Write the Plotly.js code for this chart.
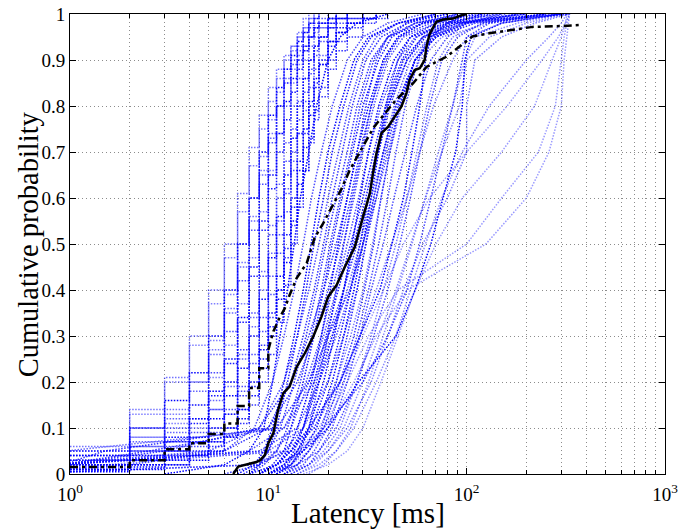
<!DOCTYPE html>
<html>
<head>
<meta charset="utf-8">
<script src="https://cdn.plot.ly/plotly-3.0.1.min.js"></script>
<style>
  html, body { margin: 0; padding: 0; background: #fff; }
  #chart { width: 678px; height: 532px; }
</style>
</head>
<body>
<div id="chart"></div>
<script>
// Integer-millisecond grid for the quantised per-node CDFs (step curves)
const stepMs = [1, 2, 3, 4, 5, 6, 7, 8, 9, 10, 11, 12, 13, 14, 15, 16, 17, 18, 20, 22, 25, 30, 35, 40];

// Cumulative probability at each stepMs value (curve ends once it reaches 1)
const stepCdf1  = [0.06, 0.14, 0.21, 0.30, 0.40, 0.50, 0.61, 0.71, 0.78, 0.84, 0.88, 0.91, 0.93, 0.96, 0.99, 1];
const stepCdf2  = [0.05, 0.13, 0.20, 0.28, 0.37, 0.47, 0.57, 0.67, 0.75, 0.81, 0.86, 0.90, 0.93, 0.95, 0.97, 0.99, 1];
const stepCdf3  = [0.04, 0.10, 0.16, 0.22, 0.30, 0.40, 0.50, 0.60, 0.70, 0.78, 0.84, 0.88, 0.91, 0.94, 0.96, 0.98, 0.99, 1];
const stepCdf4  = [0.03, 0.06, 0.10, 0.15, 0.22, 0.31, 0.42, 0.53, 0.63, 0.72, 0.80, 0.85, 0.89, 0.92, 0.95, 0.97, 0.98, 0.99, 1];
const stepCdf5  = [0.02, 0.05, 0.08, 0.12, 0.18, 0.25, 0.34, 0.45, 0.55, 0.65, 0.74, 0.81, 0.86, 0.90, 0.93, 0.95, 0.97, 0.98, 0.99, 1];
const stepCdf6  = [0.04, 0.06, 0.09, 0.12, 0.16, 0.20, 0.26, 0.34, 0.44, 0.54, 0.63, 0.72, 0.80, 0.86, 0.90, 0.93, 0.95, 0.97, 0.99, 1];
const stepCdf7  = [0.02, 0.03, 0.05, 0.08, 0.12, 0.17, 0.23, 0.30, 0.38, 0.47, 0.56, 0.65, 0.73, 0.80, 0.86, 0.90, 0.93, 0.95, 0.98, 0.99, 1];
const stepCdf8  = [0.01, 0.02, 0.04, 0.06, 0.09, 0.13, 0.18, 0.24, 0.31, 0.39, 0.48, 0.57, 0.66, 0.74, 0.81, 0.87, 0.91, 0.94, 0.97, 0.99, 1];
const stepCdf9  = [0.05, 0.10, 0.14, 0.20, 0.27, 0.36, 0.46, 0.56, 0.66, 0.74, 0.80, 0.85, 0.88, 0.91, 0.93, 0.95, 0.96, 0.97, 0.98, 0.99, 1];
const stepCdf10 = [0.01, 0.015, 0.02, 0.03, 0.05, 0.08, 0.12, 0.17, 0.23, 0.30, 0.38, 0.46, 0.55, 0.63, 0.71, 0.78, 0.84, 0.89, 0.94, 0.97, 0.99, 1];
const stepCdf11 = [0.02, 0.04, 0.06, 0.09, 0.14, 0.20, 0.27, 0.35, 0.43, 0.52, 0.60, 0.68, 0.75, 0.81, 0.86, 0.90, 0.93, 0.95, 0.97, 0.98, 0.99, 1];
const stepCdf12 = [0.005, 0.01, 0.02, 0.04, 0.07, 0.10, 0.14, 0.20, 0.27, 0.35, 0.43, 0.52, 0.60, 0.68, 0.75, 0.81, 0.86, 0.90, 0.94, 0.96, 0.98, 0.99, 1];
const stepCdf13 = [0.03, 0.05, 0.07, 0.10, 0.14, 0.19, 0.25, 0.32, 0.40, 0.48, 0.55, 0.62, 0.68, 0.74, 0.79, 0.84, 0.88, 0.91, 0.94, 0.96, 0.98, 0.99, 1];
const stepCdf14 = [0.01, 0.03, 0.05, 0.07, 0.10, 0.13, 0.17, 0.22, 0.28, 0.34, 0.40, 0.47, 0.54, 0.60, 0.66, 0.72, 0.77, 0.82, 0.88, 0.92, 0.95, 0.98, 0.99, 1];
const stepCdf15 = [0.03, 0.07, 0.12, 0.18, 0.26, 0.35, 0.45, 0.55, 0.65, 0.73, 0.80, 0.86, 0.90, 0.93, 0.96, 0.98, 0.99, 1];
const stepCdf16 = [0.01, 0.02, 0.03, 0.05, 0.07, 0.10, 0.14, 0.19, 0.25, 0.32, 0.40, 0.49, 0.58, 0.66, 0.74, 0.80, 0.85, 0.89, 0.93, 0.96, 0.98, 0.99, 1];
const stepCdf17 = [0.04, 0.08, 0.13, 0.20, 0.29, 0.39, 0.50, 0.60, 0.69, 0.77, 0.83, 0.88, 0.92, 0.95, 0.97, 0.99, 1];
const stepCdf18 = [0.02, 0.04, 0.07, 0.11, 0.17, 0.24, 0.33, 0.43, 0.53, 0.62, 0.70, 0.77, 0.83, 0.88, 0.92, 0.95, 0.97, 0.98, 0.99, 1];
const stepCdf19 = [0.015, 0.03, 0.05, 0.07, 0.10, 0.14, 0.19, 0.26, 0.34, 0.43, 0.52, 0.61, 0.70, 0.77, 0.83, 0.88, 0.92, 0.95, 0.97, 0.99, 1];
const stepCdf20 = [0.05, 0.08, 0.11, 0.15, 0.21, 0.28, 0.37, 0.47, 0.57, 0.66, 0.74, 0.80, 0.85, 0.89, 0.92, 0.95, 0.97, 0.98, 0.99, 1];
const stepCdf21 = [0.01, 0.02, 0.03, 0.04, 0.06, 0.08, 0.11, 0.15, 0.20, 0.26, 0.33, 0.41, 0.50, 0.58, 0.66, 0.73, 0.79, 0.84, 0.90, 0.94, 0.97, 0.99, 1];

// Probability levels for the remaining per-node CDFs, given as latency quantiles [ms]
const levels = [0, 0.02, 0.05, 0.1, 0.2, 0.3, 0.4, 0.5, 0.6, 0.7, 0.8, 0.9, 0.95, 0.98, 1];
const q1  = [3, 6, 8, 9.5, 10.5, 11.5, 12.5, 13.5, 14.5, 16, 17.5, 20, 23, 28, 40];
const q2  = [0.5, 2, 6, 8.5, 10.5, 12, 13.5, 15, 16.5, 18.5, 21, 25, 30, 40, 60];
const q3  = [7, 8.5, 9.5, 10.5, 12, 13.5, 15, 16.5, 18, 20, 23, 27, 32, 45, 80];
const q4  = [0.5, 0.8, 5, 9, 12, 14, 16, 18, 20, 22.5, 25.5, 30, 35, 45, 70];
const q5  = [8, 9.5, 11, 12.5, 14.5, 16.5, 18.5, 20.5, 23, 26, 29, 34, 40, 55, 100];
const q6  = [9, 11, 12.5, 14, 16.5, 18.5, 20.5, 22.5, 25, 28, 32, 38, 45, 60, 120];
const q7  = [0.5, 0.9, 8, 12, 15.5, 18.5, 21, 24, 27, 30, 34, 40, 48, 70, 150];
const q8  = [10, 12, 14, 16, 19, 21.5, 24, 26.5, 29, 32, 36, 43, 52, 80, 200];
const q9  = [0.5, 9, 11, 13, 16, 19, 22, 25, 28.5, 32, 37, 45, 55, 85, 300];
const q10 = [11, 13, 15, 17.5, 21, 24, 27, 30, 33, 36, 40, 48, 60, 90, 250];
const q11 = [0.5, 0.9, 10, 15, 20, 24, 28, 31, 34, 38, 43, 52, 65, 100, 320];
const q12 = [12, 14, 16, 19, 23, 27, 30.5, 34, 37, 41, 46, 55, 70, 110, 300];
const q13 = [0.5, 1.5, 12, 17, 22, 26, 30, 33.5, 37, 41, 47, 58, 75, 130, 330];
const q14 = [6, 9, 12, 15, 17.5, 20, 25.7, 30, 34, 38, 44, 55, 70, 100, 180];
const q15 = [9, 11, 13, 16, 23, 29, 36.5, 42, 48, 53, 58, 62, 66, 80, 100];
const q16 = [8, 11, 15, 20, 28.5, 44, 55, 66, 76, 88, 95, 98, 105, 150, 300];
const q17 = [10, 14, 18, 22, 28, 34, 40, 46, 52, 58, 65, 75, 90, 120, 250];
const q18 = [0.5, 8, 13, 17, 23, 29, 35, 42, 50, 58, 68, 85, 100, 150, 300];
const q19 = [14, 17, 20, 24, 30, 36, 44, 52, 62, 75, 92, 100, 130, 200, 320];
const q20 = [12, 16, 20, 25, 33, 40, 48, 60, 80, 100, 100, 110, 150, 220, 330];
const q21 = [9, 12, 15, 19, 25, 32, 45, 100, 150, 230, 280, 300, 310, 320, 330];
const q22 = [10, 13, 16, 20, 27, 35, 50, 125, 200, 260, 300, 310, 320, 325, 330];
const q23 = [0.5, 0.9, 1.5, 10, 14, 17, 20, 23, 26, 29, 33, 38, 45, 60, 90];
const q24 = [0.5, 0.9, 3, 9, 13, 16, 19, 22, 25, 28, 31, 35, 40, 50, 70];
const q25 = [10, 13, 14.4, 19, 30, 40, 50, 58, 66, 75, 85, 95, 100, 130, 250];
const q26 = [9, 10.5, 12, 13, 15, 17, 19, 21, 23.5, 26.5, 30, 36, 42, 55, 90];
const q27 = [11, 13, 14.5, 16, 18, 20, 22, 24, 26.5, 29.5, 33, 39, 46, 65, 110];
const q28 = [10, 12, 13.5, 15, 17, 19.5, 22.5, 26, 30, 34, 39, 47, 56, 75, 130];
const q29 = [12, 15, 17, 20, 24, 28, 32, 36, 40, 44, 49, 57, 65, 90, 160];
const q30 = [0.5, 0.9, 9, 14, 18, 22, 26, 30, 35, 40, 46, 55, 65, 95, 200];
const q31 = [13, 16, 19, 23, 28, 33, 38, 44, 50, 56, 63, 72, 85, 120, 280];
const q32 = [0.5, 0.9, 2.5, 11, 16, 20, 24, 28, 32, 36, 41, 50, 60, 80, 140];
const q33 = [15, 20, 25, 30, 37, 45, 55, 70, 95, 150, 220, 270, 300, 315, 320];
const q34 = [8, 9, 10, 11, 12.5, 14, 15.5, 17, 19, 21, 24, 28, 33, 45, 70];
const q35 = [0.5, 0.9, 6, 10, 13, 15, 17, 19, 21, 23.5, 26.5, 31, 37, 50, 80];
const q36 = [0.5, 0.9, 0.95, 12, 17, 21, 25, 29, 33, 38, 44, 55, 70, 100, 250];
const q37 = [11, 14, 16, 18.5, 22, 25, 28, 31, 35, 39, 45, 55, 68, 95, 180];
const q38 = [13, 16, 18, 21, 25, 29, 33, 38, 43, 49, 56, 66, 80, 100, 150];
const q39 = [16, 19, 22, 26, 32, 38, 45, 53, 62, 72, 85, 98, 110, 180, 300];
const q40 = [9, 11, 13, 15, 18, 21, 24, 27, 31, 35, 40, 50, 62, 85, 120];
const q41 = [7.5, 9, 10, 11.5, 13.5, 15.5, 17.5, 19.5, 22, 25, 28, 33, 40, 60, 100];
const q42 = [0.5, 0.9, 14, 18, 24, 30, 38, 48, 65, 100, 160, 240, 290, 315, 330];
const q43 = [14, 18, 22, 27, 35, 44, 52, 62, 75, 95, 130, 200, 260, 300, 320];
const q44 = [10, 12.5, 14, 16.5, 20, 23, 26, 29, 32, 35.5, 39, 45, 52, 70, 100];

// Aggregate CDF (solid black)
const allMs  = [6.65, 7.05, 8.7, 9.1, 9.6, 10.0, 10.6, 11.2, 11.9, 12.8, 13.9, 15.3, 16.8, 18.5, 20, 22.1, 24.3, 27.3, 30, 32.5, 33.7, 35.1, 37.2, 40.2, 43.4, 46.9, 49.7, 51.6, 54.7, 58, 61.4, 62.7, 65.1, 70.3, 76, 85.3, 94, 100];
const allCdf = [0, 0.016, 0.026, 0.03, 0.041, 0.067, 0.089, 0.139, 0.176, 0.19, 0.233, 0.263, 0.298, 0.341, 0.385, 0.411, 0.45, 0.494, 0.559, 0.61, 0.654, 0.697, 0.741, 0.755, 0.777, 0.799, 0.828, 0.857, 0.878, 0.882, 0.9, 0.929, 0.957, 0.983, 0.988, 0.99, 0.997, 1.0];

// Reference CDF (dash-dot black): integer-ms steps up to 10 ms, then finer samples
const refMs  = [1, 2, 3, 4, 5, 6, 7, 8, 9, 10, 10.6, 11.4, 12.1, 12.8, 13.9, 15.6, 17.1, 18.9, 20.8, 23.2, 25.7, 30, 33.8, 38.7, 44, 53.9, 62.7, 79, 95.8, 107, 130, 165, 215, 305, 370];
const refCdf = [0.015, 0.03, 0.054, 0.067, 0.087, 0.11, 0.148, 0.187, 0.23, 0.27, 0.31, 0.34, 0.36, 0.389, 0.426, 0.458, 0.513, 0.545, 0.578, 0.617, 0.66, 0.711, 0.752, 0.784, 0.813, 0.85, 0.885, 0.907, 0.936, 0.951, 0.958, 0.965, 0.972, 0.974, 0.976];
const refStepCount = 10;

const yTicks = [0, 0.1, 0.2, 0.3, 0.4, 0.5, 0.6, 0.7, 0.8, 0.9, 1];
const yTickText = ['0', '0.1', '0.2', '0.3', '0.4', '0.5', '0.6', '0.7', '0.8', '0.9', '1'];
const xTicks = [1, 10, 100, 1000];
const xTickText = ['10<sup>0</sup>', '10<sup>1</sup>', '10<sup>2</sup>', '10<sup>3</sup>'];
const xMinor = [2, 3, 4, 5, 6, 7, 8, 9, 20, 30, 40, 50, 60, 70, 80, 90, 200, 300, 400, 500, 600, 700, 800, 900];

const stepCurves = [stepCdf1, stepCdf2, stepCdf3, stepCdf4, stepCdf5, stepCdf6, stepCdf7, stepCdf8, stepCdf9,
                    stepCdf10, stepCdf11, stepCdf12, stepCdf13, stepCdf14, stepCdf15, stepCdf16, stepCdf17,
                    stepCdf18, stepCdf19, stepCdf20, stepCdf21];
const quantileCurves = [q1, q2, q3, q4, q5, q6, q7, q8, q9, q10, q11, q12, q13, q14, q15, q16, q17,
                        q18, q19, q20, q21, q22, q23, q24, q25, q26, q27, q28, q29, q30, q31, q32, q33, q34,
                        q35, q36, q37, q38, q39, q40, q41, q42, q43, q44];

// Shade of each blue curve (opacity)
const stepShade = [0.55, 0.5, 1, 0.7, 1, 0.6, 1, 0.7, 0.55, 1, 0.7, 1, 0.6, 0.8, 0.6, 0.9, 0.5,
                   0.9, 0.7, 0.5, 0.8];
const quantShade = [1, 0.7, 1, 0.7, 0.8, 1, 0.7, 1, 0.7, 1, 0.6, 0.8, 0.5, 0.8, 1, 1, 0.7,
                    0.5, 0.45, 0.5, 0.4, 0.4, 0.8, 0.8, 0.7, 0.9, 0.8, 0.9, 0.7, 0.7, 0.5, 0.8, 0.4, 0.9,
                    0.8, 0.6, 0.8, 0.7, 0.45, 0.9, 0.8, 0.4, 0.45, 0.9];

const blueDot = (a) => ({ color: 'rgba(0,0,255,' + a + ')', width: 1.5, dash: '1.5px,1.5px' });

const traces = [];
stepCurves.forEach((cdf, i) => {
  traces.push({
    type: 'scatter', mode: 'lines',
    x: stepMs.slice(0, cdf.length), y: cdf,
    line: Object.assign({ shape: 'hv' }, blueDot(stepShade[i])),
    hoverinfo: 'skip', showlegend: false
  });
});
quantileCurves.forEach((q, i) => {
  traces.push({
    type: 'scatter', mode: 'lines',
    x: q, y: levels,
    line: blueDot(quantShade[i]),
    hoverinfo: 'skip', showlegend: false
  });
});

const refDash = { color: '#000', width: 2.5, dash: '8px,4px,3px,4px' };
traces.push({
  type: 'scatter', mode: 'lines',
  x: refMs.slice(0, refStepCount), y: refCdf.slice(0, refStepCount),
  line: Object.assign({ shape: 'hv' }, refDash),
  hoverinfo: 'skip', showlegend: false
});
traces.push({
  type: 'scatter', mode: 'lines',
  x: refMs.slice(refStepCount - 1), y: refCdf.slice(refStepCount - 1),
  line: refDash,
  hoverinfo: 'skip', showlegend: false
});
traces.push({
  type: 'scatter', mode: 'lines', x: allMs, y: allCdf,
  line: { color: '#000', width: 2.5 },
  hoverinfo: 'skip', showlegend: false
});

const serif = 'Liberation Serif, Times New Roman, serif';
const gridCol = '#8c8c8c';
const gridDash = '1px,3px';

const layout = {
  width: 678, height: 532,
  margin: { l: 70, r: 13, t: 14, b: 58 },
  paper_bgcolor: '#fff', plot_bgcolor: '#fff',
  font: { family: serif, color: '#000' },
  xaxis: {
    type: 'log', range: [0, 3],
    tickmode: 'array', tickvals: xTicks, ticktext: xTickText,
    ticks: 'inside', ticklen: 6, tickwidth: 1, tickcolor: '#000',
    showline: true, linecolor: '#000', linewidth: 1, mirror: 'ticks',
    showgrid: true, gridcolor: gridCol, gridwidth: 1, griddash: gridDash,
    zeroline: false, ticklabeloverflow: 'allow', ticklabelstandoff: 3,
    tickfont: { family: serif, size: 19, color: '#000' },
    minor: { tickmode: 'array', tickvals: xMinor, ticks: 'inside', ticklen: 4, tickcolor: '#000',
             showgrid: true, gridcolor: gridCol, gridwidth: 1, griddash: gridDash }
  },
  yaxis: {
    range: [0, 1],
    tickmode: 'array', tickvals: yTicks, ticktext: yTickText,
    ticks: 'inside', ticklen: 6, tickwidth: 1, tickcolor: '#000',
    showline: true, linecolor: '#000', linewidth: 1, mirror: 'ticks',
    showgrid: true, gridcolor: gridCol, gridwidth: 1, griddash: gridDash,
    zeroline: false, ticklabeloverflow: 'allow',
    tickfont: { family: serif, size: 19, color: '#000' }
  },
  annotations: [
    { text: 'Latency [ms]', xref: 'paper', yref: 'paper', x: 0.5, y: -0.085,
      xanchor: 'center', yanchor: 'middle', showarrow: false,
      font: { family: serif, size: 29, color: '#000' } },
    { text: 'Cumulative probability', xref: 'paper', yref: 'paper', x: -0.07, y: 0.5,
      xanchor: 'center', yanchor: 'middle', textangle: -90, showarrow: false,
      font: { family: serif, size: 28.5, color: '#000' } }
  ]
};

Plotly.newPlot('chart', traces, layout, { staticPlot: true, displayModeBar: false });
</script>
</body>
</html>
